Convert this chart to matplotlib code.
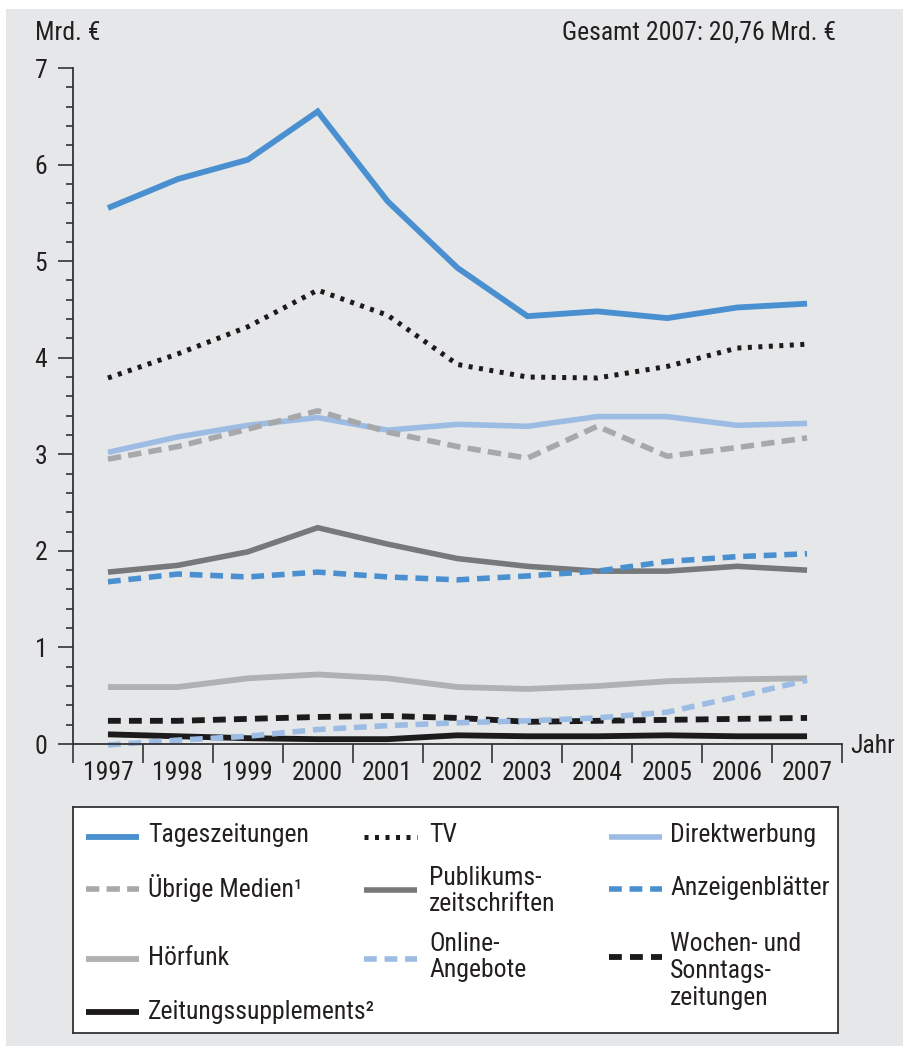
import matplotlib.pyplot as plt
import matplotlib.patches as mpatches
from matplotlib import font_manager

# Werbeeinnahmen in Mrd. Euro
years = [1997, 1998, 1999, 2000, 2001, 2002, 2003, 2004, 2005, 2006, 2007]

tageszeitungen = [5.55, 5.85, 6.05, 6.55, 5.62, 4.93, 4.43, 4.48, 4.41, 4.52, 4.56]
tv = [3.79, 4.04, 4.32, 4.70, 4.44, 3.93, 3.80, 3.79, 3.91, 4.10, 4.14]
direktwerbung = [3.02, 3.18, 3.30, 3.38, 3.25, 3.31, 3.29, 3.39, 3.39, 3.30, 3.32]
uebrige_medien = [2.95, 3.08, 3.26, 3.45, 3.23, 3.08, 2.96, 3.29, 2.98, 3.07, 3.17]
publikumszeitschriften = [1.78, 1.85, 1.99, 2.24, 2.07, 1.92, 1.84, 1.79, 1.79, 1.84, 1.80]
anzeigenblaetter = [1.68, 1.76, 1.73, 1.78, 1.73, 1.70, 1.74, 1.79, 1.89, 1.94, 1.97]
hoerfunk = [0.59, 0.59, 0.68, 0.72, 0.68, 0.59, 0.57, 0.60, 0.65, 0.67, 0.68]
online = [-0.01, 0.04, 0.08, 0.15, 0.19, 0.22, 0.24, 0.27, 0.33, 0.49, 0.66]
wochenzeitungen = [0.24, 0.24, 0.26, 0.28, 0.29, 0.27, 0.23, 0.24, 0.25, 0.26, 0.27]
supplements = [0.10, 0.08, 0.06, 0.05, 0.05, 0.09, 0.08, 0.08, 0.09, 0.08, 0.08]

# schmale Schrift, wenn vorhanden
names = {f.name for f in font_manager.fontManager.ttflist}
narrow = [n for n in ['Liberation Sans Narrow', 'Roboto Condensed', 'DejaVu Sans Condensed',
                      'Open Sans Condensed'] if n in names]
plt.rcParams['font.family'] = narrow + ['DejaVu Sans']
if not narrow:
    plt.rcParams['font.stretch'] = 'condensed'
fs = 18.5 if narrow else 16
txt = '#231f20'
bg = '#e6e7e9'

blue = '#4a90d0'
lightblue = '#9dbce4'
gray = '#a7a8aa'
darkgray = '#77787a'
midgray = '#b0b1b3'
black = '#1c1a1b'

W, H = 904, 1046
fig = plt.figure(figsize=(W / 100, H / 100), dpi=100)
fig.patch.set_facecolor('white')
fig.patches.append(mpatches.Rectangle((6 / W, 0), 1, 1 - 9 / H, transform=fig.transFigure,
                                      facecolor=bg, edgecolor='none', zorder=-10))


def px_axes(x0, y0, x1, y1):
    return fig.add_axes([x0 / W, 1 - y1 / H, (x1 - x0) / W, (y1 - y0) / H])


ax = px_axes(73, 68, 842, 744)
ax.set_facecolor('none')

# (data, color, linestyle, linewidth)
series = [
    (tageszeitungen, blue, '-', 4.2),
    (tv, black, (0, (0.8, 1.3)), 3.6),
    (direktwerbung, lightblue, '-', 4.0),
    (uebrige_medien, gray, (0, (2.4, 1.3)), 4.0),
    (publikumszeitschriften, darkgray, '-', 4.0),
    (anzeigenblaetter, blue, (0, (2.3, 1.4)), 4.0),
    (hoerfunk, midgray, '-', 4.2),
    (wochenzeitungen, black, (0, (2.2, 1.4)), 4.2),
    (supplements, black, '-', 4.2),
    (online, lightblue, (0, (2.3, 1.4)), 4.0),
]
for vals, col, ls, lw in series:
    ax.plot(years, vals, color=col, ls=ls, lw=lw, clip_on=False,
            solid_capstyle='butt', solid_joinstyle='miter', dash_capstyle='butt')

ax.set_xlim(1996.5, 2007.5)
ax.set_ylim(0, 7)
for s in ['top', 'right']:
    ax.spines[s].set_visible(False)
for s in ['left', 'bottom']:
    ax.spines[s].set_linewidth(1.3)
    ax.spines[s].set_color('#333333')

ax.set_yticks(range(0, 8))
ax.set_yticks([i * 0.2 for i in range(36)], minor=True)
ax.tick_params(axis='y', which='major', length=10.5, width=1.2, color='#333333',
               pad=8, labelcolor=txt, labelsize=fs)
ax.tick_params(axis='y', which='minor', length=5, width=1.2, color='#333333')

ax.set_xticks([y - 0.5 for y in years] + [2007.5])
ax.set_xticklabels([])
ax.set_xticks(years, minor=True)
ax.set_xticklabels([str(y) for y in years], minor=True)
ax.tick_params(axis='x', which='major', length=14, width=1.2, color='#333333')
ax.tick_params(axis='x', which='minor', length=0, pad=12, labelcolor=txt, labelsize=fs)

fig.text(35 / W, 1 - 33 / H, 'Mrd. €', ha='left', va='center', color=txt, fontsize=fs)
fig.text(836 / W, 1 - 33 / H, 'Gesamt 2007: 20,76 Mrd. €', ha='right', va='center',
         color=txt, fontsize=fs)
fig.text(850 / W, 1 - 746 / H, 'Jahr', ha='left', va='center', color=txt, fontsize=fs)

# Legende
lg = px_axes(73, 807, 838, 1033)
lg.set_xlim(73, 838)
lg.set_ylim(1033, 807)
lg.set_facecolor('white')
lg.set_xticks([])
lg.set_yticks([])
for s in lg.spines.values():
    s.set_linewidth(1.3)
    s.set_color('#333333')

legend_items = [
    (86, 148, 837, 835, 'Tageszeitungen', series[0]),
    (364, 429, 837, 835, 'TV', series[1]),
    (609, 670, 837, 835, 'Direktwerbung', series[2]),
    (86, 148, 889, 888, 'Übrige Medien¹', series[3]),
    (364, 429, 890, 891, 'Publikums-\nzeitschriften', series[4]),
    (609, 670, 889, 888, 'Anzeigenblätter', series[5]),
    (86, 148, 959, 958, 'Hörfunk', series[6]),
    (364, 429, 959, 957, 'Online-\nAngebote', series[9]),
    (609, 670, 957, 971, 'Wochen- und\nSonntags-\nzeitungen', series[7]),
    (86, 148, 1012, 1012, 'Zeitungssupplements²', series[8]),
]
for hx, tx, hy, ty, label, (vals, col, ls, lw) in legend_items:
    lg.plot([hx, hx + 53], [hy, hy], color=col, ls=ls, lw=lw,
            solid_capstyle='butt', dash_capstyle='butt')
    lg.text(tx, ty, label, ha='left', va='center', color=txt, fontsize=fs,
            linespacing=1.15)

fig.savefig('out.png', dpi=100)
